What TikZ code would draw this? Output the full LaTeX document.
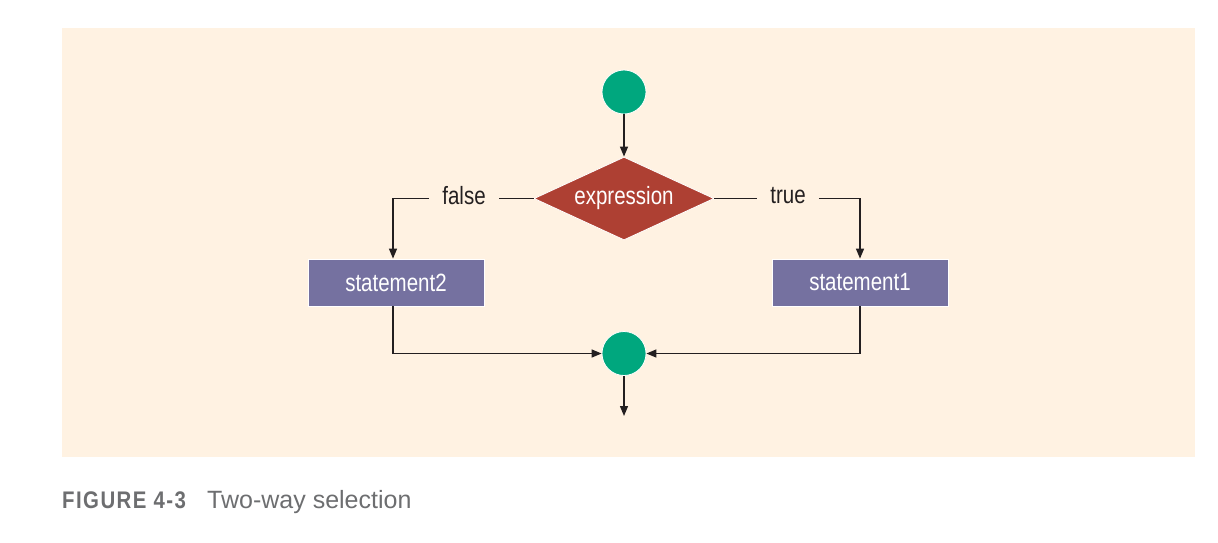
\documentclass[tikz,border=0pt]{standalone}
\usepackage{fontspec}
\setmainfont{Liberation Sans}
\newfontfamily\condfont{Liberation Sans}[FakeStretch=0.82]
\newfontfamily\capfont{Liberation Sans}[FakeStretch=0.85,LetterSpace=6]
\usetikzlibrary{shapes.geometric,arrows.meta}
\definecolor{panel}{HTML}{FFF2E2}
\definecolor{startgreen}{HTML}{00A77E}
\definecolor{decisionred}{HTML}{AE4033}
\definecolor{actionpurple}{HTML}{7571A0}
\definecolor{ink}{HTML}{231F20}
\definecolor{captiongray}{HTML}{6D6E70}
\tikzset{
  flowtext/.style={font=\condfont\fontsize{25}{29}\selectfont},
  dot/.style={circle, fill=startgreen, draw=white, line width=0.8pt, minimum size=44pt, inner sep=0pt},
  decision/.style={diamond, aspect=2.17, fill=decisionred, draw=white, line width=0.8pt, minimum width=180pt, minimum height=83pt, inner sep=0pt, text=white, flowtext},
  action/.style={rectangle, fill=actionpurple, draw=white, line width=0.8pt, minimum width=176pt, minimum height=47pt, inner sep=0pt, text=white, flowtext},
  branchlabel/.style={flowtext, text=ink, inner xsep=13pt, inner ysep=0pt},
  link/.style={draw=ink, line width=1.3pt},
  flow/.style={link, -{Triangle[length=10pt,width=8pt]}}
}
\begin{document}
\begin{tikzpicture}[x=1pt,y=-1pt]
  \useasboundingbox[fill=white] (0,0) rectangle (1218,542);
  \fill[panel] (62,28) rectangle (1195,457);

  % nodes
  \node[dot] (start) at (624,92) {};
  \node[decision] (expr) at (624,198.5) {expression};
  \node[branchlabel] (lfalse) at (464,196) {false};
  \node[branchlabel] (ltrue) at (788,196) {true};
  \node[action] (stmt2) at (396,282.5) {statement2};
  \node[action] (stmt1) at (860,282.5) {statement1};
  \node[dot] (join) at (624,353.5) {};
  \coordinate (out) at (624,416);

  % connectors
  \draw[flow] (start) -- (expr.north);
  \draw[link] (expr.west) -- (expr.west -| lfalse.east);
  \draw[flow] (expr.west -| lfalse.west) -| ([xshift=-3pt]stmt2.north);
  \draw[link] (expr.east) -- (expr.east -| ltrue.west);
  \draw[flow] (expr.east -| ltrue.east) -| (stmt1.north);
  \draw[flow] ([xshift=-3pt]stmt2.south) |- (join.west);
  \draw[flow] (stmt1.south) |- (join.east);
  \draw[flow] (join) -- (out);

  % caption
  \node[anchor=base west, inner sep=0pt, text=captiongray, font=\capfont\bfseries\fontsize{24}{30}\selectfont] (fig) at (62,508) {FIGURE 4-3};
  \node[anchor=base west, inner sep=0pt, text=captiongray, font=\fontsize{25}{30}\selectfont] (title) at (207,508) {Two-way selection};
\end{tikzpicture}
\end{document}
